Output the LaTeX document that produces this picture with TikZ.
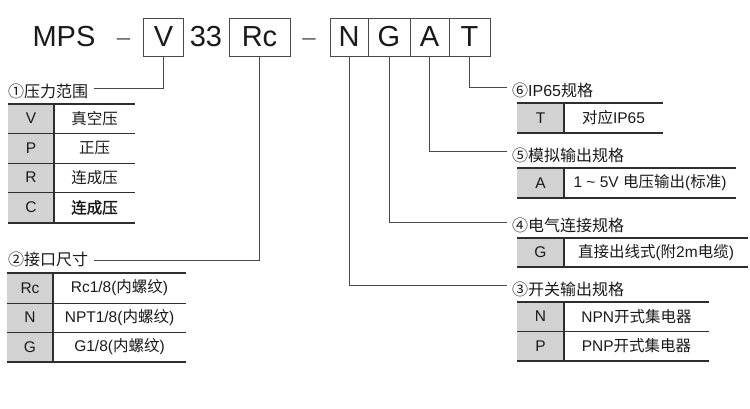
\documentclass[tikz,border=0pt]{standalone}
\usepackage{fontspec}
\setmainfont{Liberation Sans}
\newfontfamily\zhfont{Noto Sans CJK SC}
\newfontfamily\zhbold[FakeBold=1.5]{Noto Sans CJK SC}
\newcommand{\zh}[1]{{\zhfont #1}}
\newcommand{\zhb}[1]{{\zhbold #1}}
\definecolor{txt}{HTML}{1A1A1A}
\definecolor{linec}{HTML}{4A4A4A}
\definecolor{rulec}{HTML}{2E2E2E}
\definecolor{dashc}{HTML}{666666}
\definecolor{cellgray}{HTML}{D2D2D2}
\begin{document}
\begin{tikzpicture}[x=1pt,y=-1pt,
  code/.style={draw=linec, line width=0.9pt, minimum height=38pt, inner sep=0pt, text=txt, font=\fontsize{29}{30}\selectfont},
  big/.style={inner sep=0pt, text=txt, font=\fontsize{29}{30}\selectfont},
  dashtxt/.style={inner sep=0pt, text=dashc, font=\fontsize{24}{24}\selectfont},
  conn/.style={draw=linec, line width=0.9pt},
  lab/.style={inner sep=0pt, text=txt, font=\fontsize{16}{18}\selectfont},
  cell/.style={inner sep=0pt, text=txt, font=\fontsize{15.5}{17}\selectfont},
  gcell/.style={cell, fill=cellgray, minimum width=46pt},
  rulethick/.style={draw=rulec, line width=2.2pt},
  rulethin/.style={draw=rulec, line width=0.9pt},
  sep/.style={draw=rulec, line width=1.1pt}
]
\useasboundingbox (0,0) rectangle (750,408);
\fill[white] (0,0) rectangle (750,408);

% ---------- top code row ----------
\node[big] (mps) at (64,37) {MPS};
\node[dashtxt, anchor=base] (d1) at (123.5,45.5) {–};
\node[code, minimum width=40pt] (V) at (163.5,37) {V};
\node[big] (n33) at (206,37) {33};
\node[code, minimum width=61pt] (Rc) at (259.5,37) {Rc};
\node[dashtxt, anchor=base] (d2) at (309,45.5) {–};
\node[code, minimum width=38pt] (N) at (349,37) {N};
\node[code, minimum width=42pt] (G) at (389,37) {G};
\node[code, minimum width=39pt] (A) at (429.5,37) {A};
\node[code, minimum width=41pt] (T) at (469.5,37) {T};

% ---------- labels ----------
\node[lab, anchor=west] (l1) at (8,91) {\zh{①压力范围}};
\node[lab, anchor=west] (l2) at (8,259) {\zh{②接口尺寸}};
\node[lab, anchor=west] (l6) at (512,90) {\zh{⑥}IP65\zh{规格}};
\node[lab, anchor=west] (l5) at (512,155) {\zh{⑤模拟输出规格}};
\node[lab, anchor=west] (l4) at (512,225) {\zh{④电气连接规格}};
\node[lab, anchor=west] (l3) at (512,289) {\zh{③开关输出规格}};

% ---------- connectors ----------
\draw[conn] (V.south) |- ([xshift=6pt,yshift=3pt]l1.east);
\draw[conn] (Rc.south) |- ([xshift=6pt,yshift=-1pt]l2.east);
\draw[conn] (T.south) |- ([xshift=-5pt,yshift=3pt]l6.west);
\draw[conn] (A.south) |- ([xshift=-5pt,yshift=4pt]l5.west);
\draw[conn] (G.south) |- ([xshift=-5pt,yshift=3pt]l4.west);
\draw[conn] (N.south) |- ([xshift=-5pt,yshift=4pt]l3.west);

% ---------- table 1 ----------
\node[gcell, minimum height=29pt] (t1g1) at (31,118.5) {V};
\node[gcell, minimum height=30pt] (t1g2) at (31,148) {P};
\node[gcell, minimum height=29pt] (t1g3) at (31,177.5) {R};
\node[gcell, minimum height=31pt] (t1g4) at (31,207.5) {C};
\node[cell] (t1w1) at (94.5,118.5) {\zh{真空压}};
\node[cell] (t1w2) at (94.5,148) {\zh{正压}};
\node[cell] (t1w3) at (94.5,177.5) {\zh{连成压}};
\node[cell] (t1w4) at (94.5,207.5) {\zhb{连成压}};
\draw[sep] (54,104) -- (54,223);
\draw[rulethin] (8,133) -- (135,133);
\draw[rulethin] (8,163) -- (135,163);
\draw[rulethin] (8,192) -- (135,192);
\draw[rulethick] (8,104) -- (135,104);
\draw[rulethick] (8,223) -- (135,223);

% ---------- table 2 ----------
\node[gcell, minimum height=30pt] (t2g1) at (30,288) {Rc};
\node[gcell, minimum height=29pt] (t2g2) at (30,317.5) {N};
\node[gcell, minimum height=30pt] (t2g3) at (30,347) {G};
\node[cell] (t2w1) at (119.5,288) {Rc1/8(\zh{内螺纹})};
\node[cell] (t2w2) at (119.5,317.5) {NPT1/8(\zh{内螺纹})};
\node[cell] (t2w3) at (119.5,347) {G1/8(\zh{内螺纹})};
\draw[sep] (53,273) -- (53,362);
\draw[rulethin] (7,303) -- (186,303);
\draw[rulethin] (7,332) -- (186,332);
\draw[rulethick] (7,273) -- (186,273);
\draw[rulethick] (7,362) -- (186,362);

% ---------- table T ----------
\node[gcell, minimum width=47pt, minimum height=30pt] (tTg) at (540.5,118) {T};
\node[cell] (tTw) at (613.5,118) {\zh{对应}IP65};
\draw[sep] (564,103) -- (564,133);
\draw[rulethick] (517,103) -- (663,103);
\draw[rulethick] (517,133) -- (663,133);

% ---------- table A ----------
\node[gcell, minimum width=47pt, minimum height=30pt] (tAg) at (540.5,183) {A};
\node[cell] (tAw) at (650,183) {1 \textasciitilde\ 5V \zh{电压输出}(\zh{标准})};
\draw[sep] (564,168) -- (564,198);
\draw[rulethick] (517,168) -- (736,168);
\draw[rulethick] (517,198) -- (736,198);

% ---------- table G ----------
\node[gcell, minimum width=47pt, minimum height=29pt] (tGg) at (540.5,252.5) {G};
\node[cell] (tGw) at (656,252.5) {\zh{直接出线式}(\zh{附}2m\zh{电缆})};
\draw[sep] (564,238) -- (564,267);
\draw[rulethick] (517,238) -- (748,238);
\draw[rulethick] (517,267) -- (748,267);

% ---------- table N/P ----------
\node[gcell, minimum width=47pt, minimum height=29pt] (tNg) at (540.5,316.5) {N};
\node[gcell, minimum width=47pt, minimum height=30pt] (tPg) at (540.5,346) {P};
\node[cell] (tNw) at (636.5,316.5) {NPN\zh{开式集电器}};
\node[cell] (tPw) at (636.5,346) {PNP\zh{开式集电器}};
\draw[sep] (564,302) -- (564,361);
\draw[rulethin] (517,331) -- (709,331);
\draw[rulethick] (517,302) -- (709,302);
\draw[rulethick] (517,361) -- (709,361);
\end{tikzpicture}
\end{document}
